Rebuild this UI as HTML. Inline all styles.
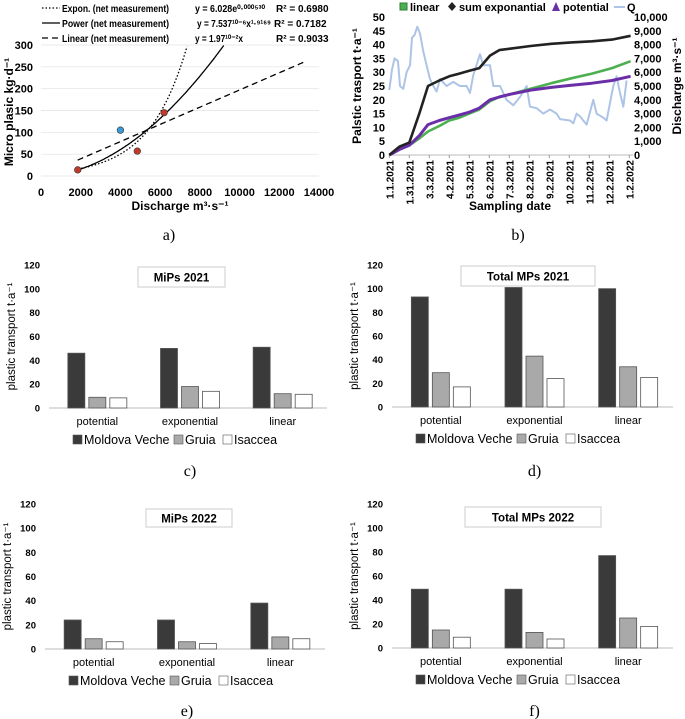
<!DOCTYPE html>
<html><head><meta charset="utf-8"><style>
body{margin:0;background:#fff;}
svg{display:block;font-family:"Liberation Sans",sans-serif;}
</style></head><body>
<svg id="s" width="685" height="719" viewBox="0 0 685 719"></svg>
<script>
// ---------- data ----------
const aPointsX=[1850,4000,4850,6200];
const aPointsY=[14,105,57,145];
const aPointColors=['#c0392b','#3a9ad9','#c0392b','#c0392b'];
const aXTicks=[0,2000,4000,6000,8000,10000,12000,14000];
const aYTicks=[0,50,100,150,200,250,300];

const bDays=[0,15,30,45,58,75,90,105,120,135,151,165,181,212,243,273,304,334,362];
const bSumExp=[0,3,4.5,15,25,27,28.5,29.5,30.5,31.5,36,38,38.5,39.5,40.3,40.8,41.2,41.8,43.2];
const bLinear=[0,2,3.5,6,8.5,10.5,12.5,13.5,15,16.5,19.5,21,22,24,26,27.8,29.5,31.5,34];
const bPotential=[0,2,3.5,7,11,12.5,13.5,14.5,15.5,17,20,21,22,23.5,24.5,25.3,26,27,28.5];
const bQDays=[0,4,8,13,16,21,26,31,34,38,42,46,51,56,61,66,71,76,86,96,106,116,121,126,136,141,151,156,166,176,186,196,206,211,221,231,241,251,256,271,276,281,286,296,306,311,321,326,336,341,346,351,356];
const bQ=[4.7,6.2,7.0,6.8,5.0,4.8,6.0,6.5,8.5,8.7,9.3,8.8,7.5,6.5,5.5,5.0,4.6,5.5,5.0,5.3,5.0,5.0,4.5,5.8,7.3,6.5,6.5,5.0,5.0,4.0,3.6,4.2,5.0,3.5,3.4,3.0,3.3,3.0,2.6,2.5,2.3,3.0,2.8,2.2,4.0,3.0,2.7,2.5,5.0,5.7,4.5,3.5,5.4];
const bDateLabels=['1.1.2021','1.31.2021','3.3.2021','4.2.2021','5.3.2021','6.2.2021','7.3.2021','8.2.2021','9.2.2021','10.2.2021','11.2.2021','12.2.2021','1.2.2022'];
const bLeftTicks=[0,5,10,15,20,25,30,35,40,45,50];
const bRightTicks=['0','1,000','2,000','3,000','4,000','5,000','6,000','7,000','8,000','9,000','10,000'];

const barCategories=['potential','exponential','linear'];
const barSeries=['Moldova Veche','Gruia','Isaccea'];
const barYTicks=[0,20,40,60,80,100,120];
const cMoldova=[46,50,51], cGruia=[9,18,12], cIsaccea=[8.5,14,11.5];
const dMoldova=[93,101,100], dGruia=[29,43,34], dIsaccea=[17,24,25];
const eMoldova=[24,24,38], eGruia=[8.5,6,10], eIsaccea=[6,4.5,8.5];
const fMoldova=[49,49,77], fGruia=[15,13,25], fIsaccea=[9,7.5,18];

// ---------- helpers ----------
const S=document.getElementById('s');
const NS='http://www.w3.org/2000/svg';
function mk(tag,at,parent){const e=document.createElementNS(NS,tag);for(const k in at)e.setAttribute(k,at[k]);(parent||S).appendChild(e);return e;}
function tx(x,y,str,at,parent){const e=mk('text',Object.assign({x:x,y:y},at||{}),parent);e.textContent=str;return e;}
function panelLabel(x,y,s){const t=tx(x,y,s,{'font-family':'Liberation Serif, serif','font-size':16,'text-anchor':'middle'});}

// ---------- panel a ----------
(function(){
 const g=mk('g',{});
 const X0=41,X1=319,Y0=176,Y1=45;
 const xs=v=>X0+(v/14000)*(X1-X0), ys=v=>Y0-(v/300)*(Y0-Y1);
 aYTicks.forEach(v=>{mk('line',{x1:X0,x2:X1,y1:ys(v),y2:ys(v),stroke:'#e0e0e0','stroke-width':0.7},g);
  const t=tx(33,ys(v)+4,String(v),{'font-size':11,'font-weight':'bold','text-anchor':'end'},g);});
 aXTicks.forEach(v=>{const t=tx(xs(v),196,String(v),{'font-size':11,'font-weight':'bold','text-anchor':'middle'},g);});
 const xt=tx(180,210,'Discharge m³·s⁻¹',{'font-size':12,'font-weight':'bold','text-anchor':'middle'},g);
 const yt=tx(0,0,'Micro plasic kg·d⁻¹',{'font-size':12,'font-weight':'bold','text-anchor':'middle',transform:'translate(13,112) rotate(-90)'},g);
 function curve(f,xa,xb,dash,name){let d='';for(let x=xa;x<=xb;x+=50){const y=f(x);if(y>300)break;d+=(d?'L':'M')+xs(x).toFixed(1)+','+ys(y).toFixed(1);}
  const p=mk('path',{d:d,fill:'none',stroke:'#000','stroke-width':1.3,'stroke-dasharray':dash},g);}
 curve(x=>6.028*Math.exp(0.00053*x),1850,9000,'1.5,2','exp-fit-line');
 curve(x=>7.537e-6*Math.pow(x,1.9169),1850,10000,'none','power-fit-line');
 curve(x=>0.0197*x,1850,13250,'6,4','linear-fit-line');
 aPointsX.forEach((v,i)=>{const c=mk('circle',{cx:xs(v),cy:ys(aPointsY[i]),r:3.3,fill:aPointColors[i],stroke:'#333','stroke-width':0.6},g);});
 const leg=[['1.5,2','Expon. (net measurement)','y = 6.028e⁰·⁰⁰⁰⁵³⁰','R² = 0.6980',70],['none','Power (net measurement)','y = 7.537¹⁰⁻⁶x¹·⁹¹⁶⁹','R² = 0.7182',74],['6,4','Linear (net measurement)','y = 1.97¹⁰⁻²x','R² = 0.9033',48]];
 leg.forEach((l,i)=>{const y=8+i*15;mk('line',{x1:42,x2:60,y1:y,y2:y,stroke:'#000','stroke-width':1.3,'stroke-dasharray':l[0]},g);
  const t=tx(62,y+4,l[1],{'font-size':10,'font-weight':'bold',textLength:107,lengthAdjust:'spacingAndGlyphs'},g);
  tx(i==1?197:195,y+4,l[2],{'font-size':10,'font-weight':'bold',textLength:l[4],lengthAdjust:'spacingAndGlyphs'},g);tx(i==1?274:276,y+4,l[3],{'font-size':10,'font-weight':'bold'},g);});
 panelLabel(169,240,'a)');
})();

// ---------- panel b ----------
(function(){
 const g=mk('g',{});
 const X0=389.3,Y0=155,Y1=17, pxDay=0.6667;
 const xs=d=>X0+d*pxDay, ys=v=>Y0-(v/50)*(Y0-Y1), yq=v=>Y0-(v/10)*(Y0-Y1);
 mk('line',{x1:X0,x2:X0+366*pxDay,y1:Y0,y2:Y0,stroke:'#bbb'},g);
 bLeftTicks.forEach(v=>{const t=tx(385,ys(v)+4,String(v),{'font-size':11,'font-weight':'bold','text-anchor':'end'},g);});
 bRightTicks.forEach((v,i)=>{const t=tx(634,yq(i)+4,v,{'font-size':11,'font-weight':'bold'},g);});
 bDateLabels.forEach((s,i)=>{const x=X0+i*20;mk('line',{x1:x,x2:x,y1:Y0,y2:Y0+3,stroke:'#999'},g);
  const t=tx(0,0,s,{'font-size':10,'font-weight':'bold','text-anchor':'end',transform:'translate('+(x+4)+',160) rotate(-90)'},g);});
 const xt=tx(510,210,'Sampling date',{'font-size':12,'font-weight':'bold','text-anchor':'middle'},g);
 const yt=tx(0,0,'Palstic trasport t·a⁻¹',{'font-size':12,'font-weight':'bold','text-anchor':'middle',transform:'translate(361,86) rotate(-90)'},g);
 const yt2=tx(0,0,'Discharge m³·s⁻¹',{'font-size':12,'font-weight':'bold','text-anchor':'middle',transform:'translate(681,86) rotate(-90)'},g);
 function line(xsArr,vals,ymap,color,w,name){const p=mk('path',{d:vals.map((v,i)=>(i?'L':'M')+xs(xsArr[i]).toFixed(1)+','+ymap(v).toFixed(1)).join(''),fill:'none',stroke:color,'stroke-width':w,'stroke-linejoin':'round'},g);}
 line(bQDays,bQ,yq,'#aec4e6',2,'q-line');
 line(bDays,bLinear,ys,'#4caf50',2.6,'linear-line');
 line(bDays,bPotential,ys,'#6a2fa8',3,'potential-line');
 line(bDays,bSumExp,ys,'#222',2.6,'sum-exponential-line');
 const lg=mk('g',{},g);
 mk('rect',{x:400,y:3,width:7,height:7,fill:'#4caf50',stroke:'#2e7d32'},lg);tx(410,11,'linear',{'font-size':11,'font-weight':'bold'},lg);
 mk('path',{d:'M452,2 L456,6.5 L452,11 L448,6.5Z',fill:'#222'},lg);tx(459,11,'sum exponantial',{'font-size':11,'font-weight':'bold'},lg);
 mk('path',{d:'M556,2 L560,11 L552,11Z',fill:'#6a2fa8'},lg);tx(563,11,'potential',{'font-size':11,'font-weight':'bold'},lg);
 mk('line',{x1:614,x2:625,y1:7,y2:7,stroke:'#aec4e6','stroke-width':2},lg);tx(627,11,'Q',{'font-size':11,'font-weight':'bold'},lg);
 panelLabel(518,240,'b)');
})();

// ---------- bar panels ----------
function barPanel(id,X0,X1,YT,YB,title,tb,M,G,I,lab,labY){
 const g=mk('g',{});
 const ys=v=>YB-(v/120)*(YB-YT);
 mk('line',{x1:X0,x2:X1,y1:YB,y2:YB,stroke:'#bbb'},g);
 barYTicks.forEach(v=>{const t=tx(X0-9,ys(v)+3.5,String(v),{'font-size':9.5,'font-weight':'bold','text-anchor':'end'},g);});
 const yt=tx(0,0,'plastic transport t·a⁻¹',{'font-size':11.5,'text-anchor':'middle',transform:'translate('+(X0-34)+','+((YT+YB)/2)+') rotate(-90)'},g);
 const bx=mk('rect',{x:tb[0],y:tb[1],width:tb[2],height:tb[3],fill:'#fff',stroke:'#ccc'},g);
 const tt=tx(tb[0]+tb[2]/2,tb[1]+tb[3]/2+4.5,title,{'font-size':11.5,'font-weight':'bold','text-anchor':'middle'},g);
 const step=(X1-X0)/3, fills=['#3a3a3a','#a9a9a9','#fff'], vals=[M,G,I];
 barCategories.forEach((c,i)=>{const cx=X0+(i+0.5)*step+2;
  vals.forEach((arr,j)=>{const x=cx-29.5+j*21;const r=mk('rect',{x:x,y:ys(arr[i]),width:17,height:YB-ys(arr[i]),fill:fills[j],stroke:'#555','stroke-width':0.8},g);});
  const t=tx(cx,YB+17,c,{'font-size':11,'text-anchor':'middle'},g);});
 const lx=X0+24, ly=YB+35;
 const lg=mk('g',{},g);
 mk('rect',{x:lx,y:ly-8,width:9,height:9,fill:fills[0],stroke:'#555','stroke-width':0.6},lg);tx(lx+11,ly+1,barSeries[0],{'font-size':12.5},lg);
 mk('rect',{x:lx+101,y:ly-8,width:9,height:9,fill:fills[1],stroke:'#555','stroke-width':0.6},lg);tx(lx+112,ly+1,barSeries[1],{'font-size':12.5},lg);
 mk('rect',{x:lx+150,y:ly-8,width:9,height:9,fill:fills[2],stroke:'#555','stroke-width':0.6},lg);tx(lx+161,ly+1,barSeries[2],{'font-size':12.5},lg);
 panelLabel((X0+X1)/2+2,labY,lab);
}
barPanel('c',49,327,265,408,'MiPs 2021',[138,267,87,20],cMoldova,cGruia,cIsaccea,'c)',476);
barPanel('d',392,673,265,407,'Total MPs 2021',[461,266,134,20],dMoldova,dGruia,dIsaccea,'d)',476);
barPanel('e',45,325,504,649,'MiPs 2022',[146,509,86,18],eMoldova,eGruia,eIsaccea,'e)',716);
barPanel('f',392,673,504,648,'Total MPs 2022',[465,507,136,20],fMoldova,fGruia,fIsaccea,'f)',716);
</script>
</body></html>
